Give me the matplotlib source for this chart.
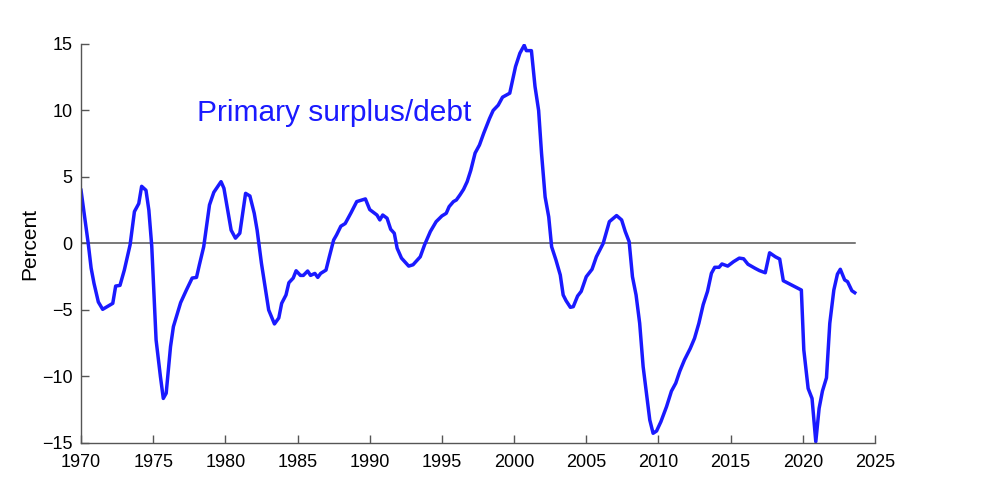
import numpy as np
import matplotlib.pyplot as plt

# primary surplus / debt, percent
years = [1970.0, 1970.28, 1970.5, 1970.7, 1970.9, 1971.2, 1971.5, 1972.2, 1972.4, 1972.7,
         1973.0, 1973.4, 1973.7, 1974.0, 1974.2, 1974.5, 1974.7, 1974.9, 1975.2, 1975.5,
         1975.7, 1975.9, 1976.2, 1976.4, 1976.9, 1977.3, 1977.7, 1978.0, 1978.2, 1978.5,
         1978.9, 1979.2, 1979.7, 1979.9, 1980.4, 1980.7, 1981.0, 1981.4, 1981.7, 1982.0,
         1982.2, 1982.5, 1983.0, 1983.4, 1983.7, 1983.9, 1984.2, 1984.4, 1984.7, 1984.9,
         1985.2, 1985.4, 1985.7, 1985.9, 1986.2, 1986.4, 1986.6, 1986.97, 1987.2, 1987.5,
         1987.7, 1988.0, 1988.3, 1988.7, 1989.1, 1989.7, 1990.0, 1990.5, 1990.7, 1990.9,
         1991.2, 1991.45, 1991.7, 1991.9, 1992.2, 1992.7, 1993.0, 1993.5, 1993.8, 1994.2,
         1994.6, 1995.0, 1995.3, 1995.5, 1995.8, 1996.0, 1996.25, 1996.5, 1996.75, 1997.0,
         1997.3, 1997.6, 1997.9, 1998.3, 1998.55, 1998.9, 1999.2, 1999.7, 2000.1, 2000.4,
         2000.7, 2000.85, 2001.2, 2001.45, 2001.7, 2001.9, 2002.15, 2002.4, 2002.6, 2002.9,
         2003.2, 2003.4, 2003.6, 2003.9, 2004.1, 2004.4, 2004.65, 2005.0, 2005.4, 2005.7,
         2006.17, 2006.6, 2007.1, 2007.45, 2007.7, 2007.97, 2008.2, 2008.45, 2008.7, 2008.94,
         2009.4, 2009.63, 2009.87, 2010.17, 2010.56, 2010.9, 2011.2, 2011.48, 2011.8, 2012.2,
         2012.5, 2012.8, 2013.1, 2013.4, 2013.67, 2013.9, 2014.2, 2014.4, 2014.8, 2015.2,
         2015.6, 2015.9, 2016.2, 2016.7, 2017.0, 2017.4, 2017.7, 2018.1, 2018.4, 2018.65,
         2019.1, 2019.56, 2019.9, 2020.07, 2020.37, 2020.64, 2020.9, 2021.13, 2021.36, 2021.64,
         2021.87, 2022.15, 2022.4, 2022.6, 2022.9, 2023.1, 2023.4, 2023.6]
surplus = [4.0, 1.77, 0.0, -1.85, -3.0, -4.4, -4.95, -4.5, -3.2, -3.15,
           -2.0, -0.1, 2.4, 3.0, 4.3, 4.0, 2.5, -0.2, -7.25, -10.0,
           -11.65, -11.26, -7.76, -6.25, -4.45, -3.5, -2.6, -2.55, -1.6, -0.24,
           2.9, 3.85, 4.65, 4.15, 1.0, 0.4, 0.77, 3.77, 3.57, 2.27,
           1.0, -1.5, -5.0, -6.05, -5.6, -4.5, -3.87, -2.95, -2.6, -2.05,
           -2.4, -2.4, -2.07, -2.4, -2.25, -2.55, -2.25, -2.0, -1.0, 0.26,
           0.64, 1.3, 1.5, 2.3, 3.15, 3.35, 2.55, 2.14, 1.77, 2.14,
           1.9, 1.07, 0.77, -0.36, -1.1, -1.7, -1.6, -1.0, -0.1, 0.9,
           1.64, 2.07, 2.27, 2.77, 3.15, 3.27, 3.65, 4.07, 4.65, 5.5,
           6.8, 7.4, 8.3, 9.4, 10.0, 10.4, 11.0, 11.3, 13.3, 14.3,
           14.9, 14.5, 14.5, 11.8, 10.0, 6.8, 3.5, 2.0, -0.24, -1.24,
           -2.37, -3.87, -4.3, -4.8, -4.75, -3.95, -3.6, -2.5, -1.94, -1.0,
           0.0, 1.64, 2.1, 1.77, 0.9, 0.14, -2.5, -3.87, -6.0, -9.26,
           -13.27, -14.27, -14.1, -13.4, -12.27, -11.1, -10.5, -9.6, -8.76, -7.9,
           -7.13, -6.0, -4.6, -3.6, -2.24, -1.79, -1.79, -1.54, -1.7, -1.37,
           -1.1, -1.15, -1.56, -1.87, -2.04, -2.2, -0.7, -1.0, -1.17, -2.8,
           -3.05, -3.3, -3.5, -8.0, -10.9, -11.65, -14.9, -12.4, -11.1, -10.1,
           -6.0, -3.5, -2.3, -1.94, -2.74, -2.87, -3.55, -3.7]

xticks = [1970, 1975, 1980, 1985, 1990, 1995, 2000, 2005, 2010, 2015, 2020, 2025]
yticks = [-15, -10, -5, 0, 5, 10, 15]

plt.rcParams['font.family'] = ['Liberation Sans', 'DejaVu Sans']

fig = plt.figure(figsize=(9.88, 4.86), dpi=100)
ax = fig.add_axes([0.082, 0.0885, 0.8036, 0.821])

ax.plot([years[0], years[-1]], [0, 0], color='#555555', lw=1.1)
ax.plot(years, surplus, color='#1a1aff', lw=2.5, solid_joinstyle='round')

ax.text(1978.0, 9.2, 'Primary surplus/debt', color='#1a1aff', fontsize=21.5,
        va='baseline', ha='left')

ax.set_xlim(1970, 2025)
ax.set_ylim(-15, 15)
ax.set_xticks(xticks)
ax.set_yticks(yticks)
ax.set_ylabel('Percent', fontsize=15, labelpad=2)

for s in ['top', 'right']:
    ax.spines[s].set_visible(False)
for s in ['left', 'bottom']:
    ax.spines[s].set_color('#555555')
    ax.spines[s].set_linewidth(1.0)
ax.tick_params(direction='in', length=6, width=1.0, color='#555555',
               labelsize=13, labelcolor='black')
ax.tick_params(axis='x', pad=8)
ax.tick_params(axis='y', pad=6)

fig.savefig('out.png', dpi=100)
